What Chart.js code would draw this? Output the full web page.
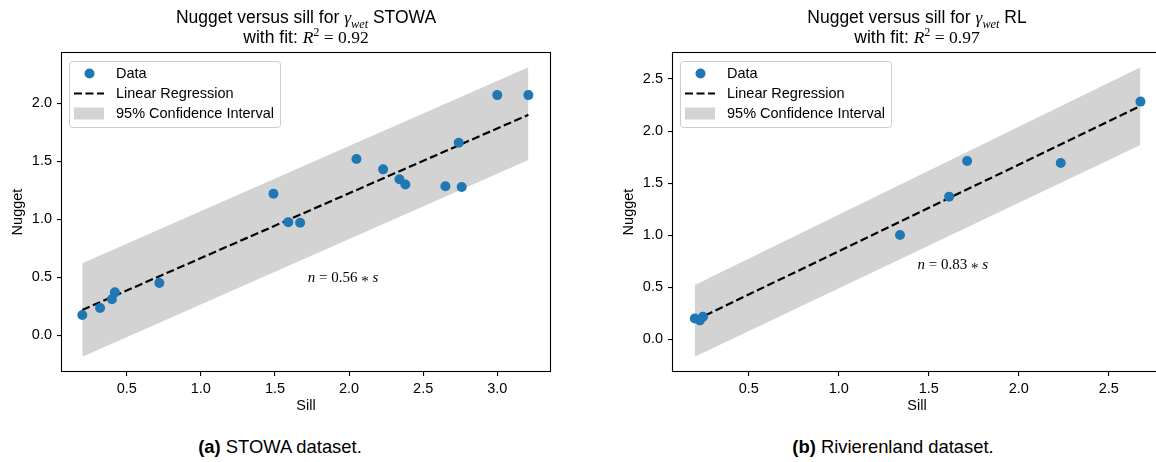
<!DOCTYPE html>
<html>
<head>
<meta charset="utf-8">
<script src="https://cdn.jsdelivr.net/npm/chart.js@4.4.0/dist/chart.umd.min.js"></script>
<style>
	body { margin: 0; width: 1156px; height: 462px; overflow: hidden; position: relative; background: #fff; color: #000; font-family: "Liberation Sans", Arial, sans-serif; }
	canvas { position: absolute; top: 0; }
	.title { position: absolute; top: 7px; text-align: center; font-size: 17.5px; line-height: 20px; white-space: nowrap; }
	.m { font-family: "Liberation Serif", serif; font-style: italic; }
	.r { font-family: "Liberation Serif", serif; font-style: normal; }
	sub, sup { font-size: 70%; line-height: 0; }
	.cap { position: absolute; top: 437px; font-size: 18.4px; line-height: 20px; text-align: center; white-space: nowrap; }
</style>
</head>
<body>
<canvas id="stowa" width="578" height="417" style="left:0"></canvas>
<canvas id="rl" width="560" height="417" style="left:611px"></canvas>

<div class="title" style="left:62px;width:488px">Nugget versus sill for <span class="m">γ<sub>wet</sub></span> STOWA<br>with fit: <span class="m">R<sup class="r">2</sup></span><span class="r"> = 0.92</span></div>
<div class="title" style="left:673px;width:488px">Nugget versus sill for <span class="m">γ<sub>wet</sub></span> RL<br>with fit: <span class="m">R<sup class="r">2</sup></span><span class="r"> = 0.97</span></div>

<div class="cap" style="left:80px;width:400px"><b>(a)</b> STOWA dataset.</div>
<div class="cap" style="left:693px;width:400px"><b>(b)</b> Rivierenland dataset.</div>

<script>
// STOWA (left panel)
const stowaSill = [0.20, 0.32, 0.40, 0.42, 0.72, 1.49, 1.59, 1.67, 2.05, 2.23, 2.34, 2.38, 2.65, 2.74, 2.76, 3.00, 3.21];
const stowaNugget = [0.175, 0.235, 0.31, 0.37, 0.45, 1.22, 0.975, 0.97, 1.52, 1.43, 1.345, 1.30, 1.285, 1.66, 1.278, 2.07, 2.07];
const stowaFitX = [0.20, 3.21];
const stowaFitY = [0.218, 1.90];
const stowaCiHigh = [0.62, 2.31];
const stowaCiLow = [-0.185, 1.51];
const stowaXTicks = [0.5, 1.0, 1.5, 2.0, 2.5, 3.0];
const stowaYTicks = [0.0, 0.5, 1.0, 1.5, 2.0];

// Rivierenland (right panel)
const rlSill = [0.20, 0.228, 0.246, 1.34, 1.613, 1.713, 2.233, 2.676];
const rlNugget = [0.20, 0.18, 0.217, 1.002, 1.37, 1.713, 1.694, 2.283];
const rlFitX = [0.20, 2.676];
const rlFitY = [0.18, 2.241];
const rlCiHigh = [0.52, 2.613];
const rlCiLow = [-0.167, 1.866];
const rlXTicks = [0.5, 1.0, 1.5, 2.0, 2.5];
const rlYTicks = [0.0, 0.5, 1.0, 1.5, 2.0, 2.5];

const legendLabels = ["Data", "Linear Regression", "95% Confidence Interval"];

const BLUE = "#1f77b4";
const BAND = "#d3d3d3";
const SANS = "'Liberation Sans', Arial, sans-serif";
const SERIF = "'Liberation Serif', serif";

Chart.defaults.font.family = SANS;
Chart.defaults.font.size = 14.5;
Chart.defaults.color = "#000";

function pts(xs, ys) {
	return xs.map((x, i) => ({ x, y: ys[i] }));
}

function drawMath(ctx, parts, cx, cy) {
	const fontOf = (p) => (p.i ? "italic " : "") + "15px " + SERIF;
	let w = 0;
	parts.forEach((p) => {
		ctx.font = fontOf(p);
		w += ctx.measureText(p.t).width;
	});
	let x = cx - w / 2;
	ctx.textBaseline = "middle";
	ctx.textAlign = "left";
	ctx.fillStyle = "#000";
	parts.forEach((p) => {
		ctx.font = fontOf(p);
		ctx.fillText(p.t, x, cy + (p.dy || 0));
		x += ctx.measureText(p.t).width;
	});
}

const framePlugin = {
	id: "frame",
	afterDatasetsDraw(chart, args, d) {
		const { ctx, scales } = chart;
		ctx.save();
		drawMath(ctx, d.note, scales.x.getPixelForValue(d.noteAt[0]), scales.y.getPixelForValue(d.noteAt[1]));
		ctx.restore();
	},
	afterDraw(chart) {
		const { ctx, chartArea: a } = chart;
		ctx.save();
		ctx.strokeStyle = "#000";
		ctx.lineWidth = 1.1;
		ctx.strokeRect(a.left - 0.5, a.top - 0.5, a.right - a.left + 1, a.bottom - a.top + 1);

		// legend box, upper left
		const L = a.left, T = a.top;
		ctx.beginPath();
		ctx.roundRect(L + 7.5, T + 8.5, 211, 66, 3);
		ctx.fillStyle = "rgba(255,255,255,0.8)";
		ctx.fill();
		ctx.strokeStyle = "#cccccc";
		ctx.lineWidth = 1;
		ctx.stroke();

		ctx.fillStyle = BLUE;
		ctx.beginPath();
		ctx.arc(L + 27.5, T + 20.5, 5, 0, 2 * Math.PI);
		ctx.fill();

		ctx.strokeStyle = "#000";
		ctx.lineWidth = 2.2;
		ctx.setLineDash([8, 3.5]);
		ctx.beginPath();
		ctx.moveTo(L + 12, T + 40.5);
		ctx.lineTo(L + 42, T + 40.5);
		ctx.stroke();
		ctx.setLineDash([]);

		ctx.fillStyle = BAND;
		ctx.fillRect(L + 12, T + 54.5, 30, 12);

		ctx.fillStyle = "#000";
		ctx.font = "14.5px " + SANS;
		ctx.textBaseline = "middle";
		ctx.textAlign = "left";
		legendLabels.forEach((t, i) => ctx.fillText(t, L + 54, T + 21 + 20 * i));
		ctx.restore();
	},
};

function buildChart(id, d) {
	const tickGrid = { drawOnChartArea: false, drawTicks: true, tickLength: 5, color: "#000", lineWidth: 1.1 };
	return new Chart(document.getElementById(id), {
		type: "line",
		data: {
			datasets: [
				{ data: pts(d.sill, d.nugget), showLine: false, pointRadius: 5, pointBackgroundColor: BLUE, pointBorderWidth: 0, borderColor: BLUE },
				{ data: pts(d.fitX, d.fitY), borderColor: "#000", borderWidth: 2.2, borderDash: [8, 3.5], pointRadius: 0, fill: false },
				{ data: pts(d.fitX, d.ciHigh), borderColor: "transparent", borderWidth: 0, pointRadius: 0, backgroundColor: BAND, fill: "+1" },
				{ data: pts(d.fitX, d.ciLow), borderColor: "transparent", borderWidth: 0, pointRadius: 0, fill: false },
			],
		},
		options: {
			responsive: false,
			animation: false,
			events: [],
			layout: { padding: { top: 53, right: d.padRight, left: 0, bottom: 0 } },
			plugins: {
				legend: { display: false },
				tooltip: { enabled: false },
				frame: d,
			},
			scales: {
				x: {
					type: "linear",
					min: d.xMin,
					max: d.xMax,
					afterBuildTicks: (s) => { s.ticks = d.xTicks.map((v) => ({ value: v })); },
					afterFit: (s) => { s.height = 46; },
					grid: tickGrid,
					border: { display: false },
					ticks: { padding: 4, maxRotation: 0, autoSkip: false, callback: (v) => Number(v).toFixed(1) },
					title: { display: true, text: "Sill", padding: { top: 0, bottom: 2 } },
				},
				y: {
					type: "linear",
					min: d.yMin,
					max: d.yMax,
					afterBuildTicks: (s) => { s.ticks = d.yTicks.map((v) => ({ value: v })); },
					afterFit: (s) => { s.width = 62; },
					grid: tickGrid,
					border: { display: false },
					ticks: { padding: 5, autoSkip: false, callback: (v) => Number(v).toFixed(1) },
					title: { display: true, text: "Nugget", padding: { top: 9, bottom: 0 } },
				},
			},
		},
		plugins: [framePlugin],
	});
}

buildChart("stowa", {
	sill: stowaSill, nugget: stowaNugget,
	fitX: stowaFitX, fitY: stowaFitY, ciHigh: stowaCiHigh, ciLow: stowaCiLow,
	xTicks: stowaXTicks, yTicks: stowaYTicks,
	xMin: 0.063, xMax: 3.356, yMin: -0.308, yMax: 2.433,
	padRight: 28,
	noteAt: [1.96, 0.49],
	note: [{ t: "n", i: true }, { t: " = 0.56 " }, { t: "*", dy: 4 }, { t: " s", i: true }],
});

buildChart("rl", {
	sill: rlSill, nugget: rlNugget,
	fitX: rlFitX, fitY: rlFitY, ciHigh: rlCiHigh, ciLow: rlCiLow,
	xTicks: rlXTicks, yTicks: rlYTicks,
	xMin: 0.079, xMax: 2.79, yMin: -0.305, yMax: 2.75,
	padRight: 10,
	noteAt: [1.633, 0.716],
	note: [{ t: "n", i: true }, { t: " = 0.83 " }, { t: "*", dy: 4 }, { t: " s", i: true }],
});
</script>
</body>
</html>
